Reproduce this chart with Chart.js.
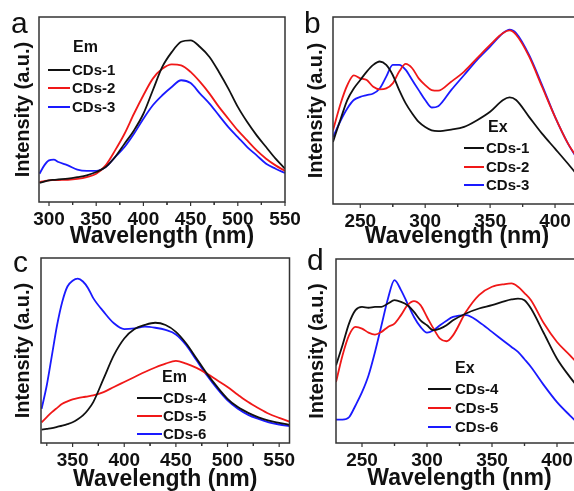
<!DOCTYPE html>
<html>
<head>
<meta charset="utf-8">
<script src="https://cdn.jsdelivr.net/npm/chart.js@4.4.0/dist/chart.umd.min.js"></script>
<style>
html, body { margin: 0; padding: 0; background: #fff; width: 574px; height: 491px; overflow: hidden; }
.panel { position: absolute; }
.tag { position: absolute; font-family: "Liberation Sans", Arial, sans-serif; font-size: 30px; line-height: 1; color: #111; }
</style>
</head>
<body>
<div class="panel" style="left:0;top:0"><canvas id="chart-a" width="305" height="250"></canvas></div>
<div class="panel" style="left:287px;top:0"><canvas id="chart-b" width="298" height="250"></canvas></div>
<div class="panel" style="left:0;top:245px"><canvas id="chart-c" width="300" height="246"></canvas></div>
<div class="panel" style="left:287px;top:245px"><canvas id="chart-d" width="298" height="246"></canvas></div>
<div class="tag" style="left:11px;top:8px">a</div>
<div class="tag" style="left:304px;top:8px">b</div>
<div class="tag" style="left:13px;top:247px">c</div>
<div class="tag" style="left:307px;top:245px">d</div>
<script>
// Panel a - emission, CDs-1..3
const waveA = [290, 295, 300, 305, 310, 320, 330, 340, 350, 360, 370, 380, 390, 400, 410, 420, 430, 440, 450, 460, 470, 480, 490, 500, 510, 520, 530, 540, 550];
const emCDs1 = [10.3, 11, 11.7, 12, 12.2, 12.6, 13.4, 14.4, 16.2, 18.9, 24.3, 31.5, 38.7, 47.7, 60.4, 73, 81, 86.6, 87.4, 83.8, 78.4, 70.3, 61.3, 51.4, 43.2, 36, 29.7, 23.4, 18];
const emCDs2 = [10.8, 11.3, 11.7, 11.8, 11.9, 12, 12.5, 13.5, 15.3, 19.8, 27.9, 36.9, 47.7, 57.7, 66.7, 72, 74.4, 73.9, 70.3, 64.9, 58.6, 51.4, 45, 38.7, 33.3, 27.9, 23.4, 19.8, 16.8];
const emCDs3 = [15.3, 19.8, 22.5, 22.9, 21.6, 19.8, 17.5, 16.8, 16.8, 18.9, 24.3, 29.7, 36.9, 45, 52.3, 57.7, 62.2, 65.8, 64.3, 58.6, 53.2, 46.8, 40.5, 35.1, 29.7, 25.2, 20.7, 18, 15.7];
const ticksA = [300, 350, 400, 450, 500, 550];

// Panel b - excitation, CDs-1..3
const waveB = [229, 235, 240, 245, 250, 255, 260, 265, 270, 275, 280, 285, 290, 295, 300, 305, 310, 320, 330, 340, 350, 360, 365, 370, 380, 390, 400, 410, 420];
const exCDs1 = [33.2, 45.7, 55.6, 61.8, 66.3, 70.8, 74.4, 76.2, 74.4, 69, 60.9, 53.8, 48.4, 43.9, 41.2, 39.4, 39, 39.8, 41.2, 44.8, 49.3, 55.6, 57, 55.6, 46.6, 37.6, 29.6, 21.5, 13];
const exCDs2 = [39.4, 54, 63.5, 68.8, 67.2, 66.3, 62.7, 61.3, 61.8, 64.5, 70.8, 74.9, 72.6, 67.2, 63.6, 60.9, 60.6, 65.4, 70.8, 78, 85.1, 91.4, 92.8, 90.5, 78.9, 62.7, 46.6, 32.3, 22];
const exCDs3 = [35.8, 44.8, 51.1, 55.6, 57.3, 58.2, 59.1, 61.8, 68.1, 74.4, 74.4, 71.7, 66.3, 60.9, 55.6, 51.6, 52.3, 60.9, 69, 77.1, 84.2, 91.4, 93.2, 91.4, 79.7, 63.6, 46.6, 32.3, 21];
const ticksB = [250, 300, 350, 400];

// Panel c - emission, CDs-4..6
const waveC = [320, 325, 330, 335, 340, 345, 350, 355, 360, 365, 370, 380, 390, 400, 410, 420, 430, 440, 450, 460, 470, 480, 490, 500, 510, 520, 530, 540, 550, 560];
const emCDs4 = [7.2, 7.6, 8, 8.7, 9.4, 10.2, 11.2, 12.8, 14.9, 18, 22.1, 34.8, 47.5, 56.5, 61.6, 63.8, 65, 63.8, 60.1, 53.8, 45.7, 37.5, 30.3, 23.9, 19.4, 16.3, 13.9, 12.1, 10.9, 9.8];
const emCDs5 = [11.2, 14, 16.7, 19, 21.2, 22.5, 23.6, 24.3, 24.8, 25.2, 25.7, 27.5, 30.3, 33, 35.7, 38.4, 40.8, 42.9, 44.4, 42.9, 40.6, 37.5, 33.9, 30.3, 26.1, 22.1, 18.8, 15.8, 13.6, 11.6];
const emCDs6 = [18.5, 31.2, 47.5, 63.8, 76.4, 84.6, 87.7, 88.8, 87.3, 83.7, 78.3, 71, 64.7, 61.6, 62, 62.9, 62.3, 61.1, 58.7, 52.9, 44.7, 36.6, 29.3, 23, 18.5, 15.2, 13, 11.2, 10, 9.1];
const ticksC = [350, 400, 450, 500, 550];

// Panel d - excitation, CDs-4..6
const waveD = [230, 235, 240, 245, 250, 255, 260, 265, 270, 275, 280, 285, 290, 295, 300, 305, 310, 315, 320, 330, 340, 350, 360, 365, 370, 375, 380, 390, 400, 410, 420];
const exCDs4 = [42.2, 53.1, 64.9, 72.2, 74, 73.5, 74, 74, 75.8, 77.6, 76.7, 74.9, 71.3, 66.7, 64, 61.3, 62.2, 64, 66.7, 70.4, 73.1, 74.9, 77.1, 78, 78.5, 77.6, 73.1, 59.5, 45.8, 35.8, 27];
const exCDs5 = [33.1, 47.6, 58.5, 63.1, 62.2, 60, 58.9, 60.4, 63.1, 64.9, 69.5, 74.9, 77.1, 74.9, 68.5, 62.2, 56.7, 55.3, 58.5, 71.3, 80.4, 84.9, 86.4, 86.7, 84.9, 81.5, 77.6, 64.9, 54.9, 47.6, 40];
const exCDs6 = [12.7, 12.7, 14, 20.4, 27.6, 36.7, 49.5, 64, 78.5, 88.5, 83.1, 75.8, 68.5, 63.1, 60, 61.3, 64, 66.5, 68.5, 69.5, 65.8, 60.4, 54.9, 52.2, 49.5, 45.5, 41.3, 31.3, 22.2, 14.9, 8];
const ticksD = [250, 300, 350, 400];

const lineColors = ['#111111', '#f01818', '#1a1aff'];
const FONT = '"Liberation Sans", Arial, sans-serif';
Chart.defaults.font.family = FONT;
Chart.defaults.color = '#111';

// box around the plot + short outward ticks under the bottom axis
const framePlugin = {
    id: 'frame',
    afterDatasetsDraw(chart) {
        const { ctx, chartArea: a, scales } = chart;
        ctx.save();
        ctx.strokeStyle = '#333';
        ctx.lineWidth = 1.5;
        ctx.strokeRect(a.left, a.top, a.right - a.left, a.bottom - a.top);
        const xs = scales.x;
        ctx.lineWidth = 1.2;
        xs.ticks.forEach(t => {
            const px = xs.getPixelForValue(t.value);
            ctx.beginPath();
            ctx.moveTo(px, a.bottom);
            ctx.lineTo(px, a.bottom + 4);
            ctx.stroke();
            [t.value - 25, t.value + 25].forEach(v => {
                const mid = xs.getPixelForValue(v);
                if (mid > a.left + 2 && mid < a.right - 2) {
                    ctx.beginPath();
                    ctx.moveTo(mid, a.bottom);
                    ctx.lineTo(mid, a.bottom + 3);
                    ctx.stroke();
                }
            });
        });
        ctx.restore();
    }
};

// legend drawn inside the plot area
const panelLegend = {
    id: 'panelLegend',
    afterDraw(chart, args, opts) {
        const { ctx, chartArea: a } = chart;
        ctx.save();
        ctx.fillStyle = '#111';
        ctx.textBaseline = 'middle';
        ctx.textAlign = 'left';
        ctx.font = 'bold 16px ' + FONT;
        ctx.fillText(opts.title, a.left + opts.titleX, a.top + opts.titleY);
        ctx.font = 'bold 15px ' + FONT;
        chart.data.datasets.forEach((ds, i) => {
            const y = a.top + opts.rowY[i];
            ctx.strokeStyle = ds.borderColor;
            ctx.lineWidth = 2;
            ctx.beginPath();
            ctx.moveTo(a.left + opts.lineX[0], y);
            ctx.lineTo(a.left + opts.lineX[1], y);
            ctx.stroke();
            ctx.fillText(ds.label, a.left + opts.textX, y + 1);
        });
        ctx.restore();
    }
};

function makePanel(id, p) {
    const datasets = p.series.map((s, i) => ({
        label: p.labels[i],
        data: p.wave.map((w, j) => ({ x: w, y: s[j] })),
        borderColor: lineColors[i],
        borderWidth: 1.8,
        pointRadius: 0,
        fill: false,
        cubicInterpolationMode: 'monotone'
    }));

    return new Chart(document.getElementById(id), {
        type: 'line',
        data: { datasets },
        options: {
            responsive: false,
            animation: false,
            layout: { padding: { left: 0, top: p.top, right: p.right, bottom: 0 } },
            plugins: {
                legend: { display: false },
                tooltip: { enabled: false },
                panelLegend: p.legend
            },
            scales: {
                x: {
                    type: 'linear',
                    min: p.min,
                    max: p.max,
                    afterBuildTicks: s => { s.ticks = p.ticks.map(v => ({ value: v })); },
                    // fixed height; end labels may hang over the neighbouring panel
                    afterFit: s => { s.height = p.xh; s.paddingLeft = 0; s.paddingRight = 0; },
                    grid: { display: false, drawTicks: false },
                    border: { display: false },
                    ticks: { font: { size: 19, weight: 'bold' }, padding: p.tickPad, maxRotation: 0, autoSkip: false },
                    title: {
                        display: true, text: 'Wavelength (nm)',
                        font: { size: 23, weight: 'bold', lineHeight: 1 },
                        padding: { top: 0, bottom: p.xtPad }
                    }
                },
                y: {
                    min: 0,
                    max: 100,
                    afterFit: s => { s.width = p.yw; s.paddingTop = 0; s.paddingBottom = 0; },
                    grid: { display: false, drawTicks: false },
                    border: { display: false },
                    ticks: { display: false },
                    title: {
                        display: true, text: 'Intensity (a.u.)',
                        font: { size: 20, weight: 'bold', lineHeight: 1 },
                        padding: { top: p.ytPad, bottom: 0 }
                    }
                }
            }
        },
        plugins: [framePlugin, panelLegend]
    });
}

makePanel('chart-a', {
    wave: waveA, series: [emCDs1, emCDs2, emCDs3], labels: ['CDs-1', 'CDs-2', 'CDs-3'],
    min: 289.4, max: 550, ticks: ticksA, top: 17, right: 20, xh: 48, yw: 39,
    tickPad: 6, xtPad: 2, ytPad: 13,
    legend: { title: 'Em', titleX: 34, titleY: 31, lineX: [9, 31], textX: 33, rowY: [53, 71, 90] }
});

makePanel('chart-b', {
    wave: waveB, series: [exCDs1, exCDs2, exCDs3], labels: ['CDs-1', 'CDs-2', 'CDs-3'],
    min: 229, max: 420, ticks: ticksB, top: 17, right: 4, xh: 46, yw: 46,
    tickPad: 6, xtPad: 1.5, ytPad: 19,
    legend: { title: 'Ex', titleX: 155, titleY: 111, lineX: [131, 151], textX: 153, rowY: [131, 150, 168] }
});

makePanel('chart-c', {
    wave: waveC, series: [emCDs4, emCDs5, emCDs6], labels: ['CDs-4', 'CDs-5', 'CDs-6'],
    min: 319.4, max: 560, ticks: ticksC, top: 13, right: 10.5, xh: 48, yw: 41,
    tickPad: 6, xtPad: 0, ytPad: 13,
    legend: { title: 'Em', titleX: 121, titleY: 120, lineX: [96, 121], textX: 122, rowY: [140, 158, 176] }
});

makePanel('chart-d', {
    wave: waveD, series: [exCDs4, exCDs5, exCDs6], labels: ['CDs-4', 'CDs-5', 'CDs-6'],
    min: 230, max: 420, ticks: ticksD, top: 14, right: 2, xh: 48, yw: 49,
    tickPad: 6, xtPad: 0.5, ytPad: 20,
    legend: { title: 'Ex', titleX: 119, titleY: 110, lineX: [92, 115], textX: 119, rowY: [130, 149, 168] }
});
</script>
</body>
</html>
